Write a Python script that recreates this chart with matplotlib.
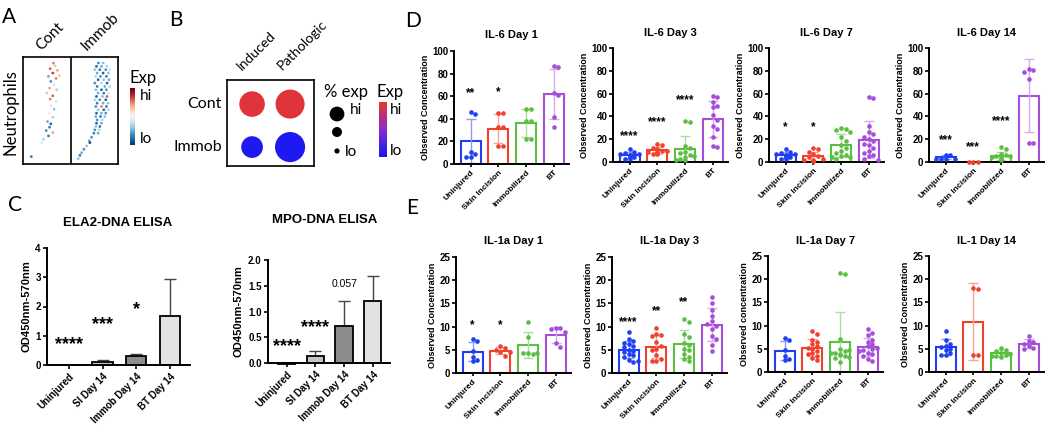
import numpy as np
import matplotlib
matplotlib.use('Agg')
import matplotlib.pyplot as plt
from matplotlib.colors import LinearSegmentedColormap

plt.rcParams['font.family'] = ['Liberation Sans', 'DejaVu Sans']

W, H = 1050, 432

# ---------------- panel A: neutrophil cells (arbitrary UMAP units)
cont_x = [160, 165, 150, 172, 158, 145, 168, 178, 152, 162, 148, 170, 140, 158, 150, 168, 152,
          162, 148, 158, 142, 152, 148, 138, 158, 145, 130, 125, 93]
cont_y = [190, 198, 207, 212, 220, 230, 236, 228, 245, 255, 265, 270, 280, 288, 298, 305, 318,
          328, 340, 352, 365, 372, 382, 392, 398, 408, 418, 428, 470]
cont_e = [0.5, 0.3, 0.6, 0.4, 0.7, -0.5, 0.5, 0.3, -0.6, 0.2, 0.4, -0.3, 0.3, 0.6, 0.5, -0.2, -0.2,
          -0.4, 0.1, -0.3, -0.5, -0.8, -0.7, -0.6, 0.4, -0.7, -0.3, -0.2, -0.7]

immob_x = [296, 310, 290, 305, 322, 285, 300, 318, 330, 292, 310, 326, 288, 302, 320, 295, 312, 328,
           285, 305, 322, 292, 315, 330, 288, 305, 320, 295, 312, 326, 290, 308, 322, 285, 300, 318,
           292, 310, 325, 288, 305, 320, 295, 312, 326, 290, 305, 318, 288, 302, 315, 292, 308, 290,
           305, 288, 300, 285, 298, 282, 295, 275, 268, 270, 260, 252, 245, 240, 235]
immob_y = [190, 190, 200, 200, 200, 210, 210, 210, 210, 220, 220, 220, 230, 230, 230, 240, 240, 240,
           250, 250, 250, 260, 260, 260, 270, 270, 270, 280, 280, 280, 290, 290, 290, 300, 300, 300,
           310, 310, 310, 320, 320, 320, 330, 330, 330, 340, 340, 340, 350, 350, 350, 360, 360, 370,
           370, 380, 380, 390, 390, 400, 400, 412, 422, 428, 438, 448, 458, 466, 476]
immob_e = [-0.6, -0.4, -0.8, -0.5, -0.3, -0.4, -0.7, -0.6, -0.2, -0.5, -0.8, -0.4, -0.3, -0.6, -0.7,
           -0.8, -0.4, -0.5, -0.6, -0.3, -0.8, -0.7, -0.5, -0.3, -0.4, -0.8, -0.6, -0.5, -0.7, -0.2,
           -0.8, -0.4, 0.6, -0.3, -0.6, -0.8, -0.7, -0.5, -0.4, -0.6, 0.5, -0.7, -0.4, -0.8, -0.3,
           -0.8, -0.5, -0.6, -0.5, -0.7, -0.4, -0.6, -0.3, -0.8, -0.5, -0.4, -0.7, -0.6, -0.3, -0.7,
           -0.5, -0.6, -0.5, -0.9, -0.4, -0.6, -0.5, -0.7, -0.4]

# ---------------- panel B: dot plot
dot_rows = ['Cont', 'Immob']
dot_cols = ['Induced', 'Pathologic']
dot_pct = [[0.72, 0.93], [0.52, 1.0]]
dot_exp = [[0.95, 0.95], [0.03, 0.03]]
legend_pct = [0.24, 0.11, 0.03]

# ---------------- panel C: ELISA
elisa_groups = ['Uninjured', 'SI Day 14', 'Immob Day 14', 'BT Day 14']
elisa_fill = ['#ffffff', '#c4c4c4', '#8c8c8c', '#e2e2e2']
ela2_mean = [0.01, 0.10, 0.30, 1.68]
ela2_sd = [0.0, 0.07, 0.08, 1.27]
ela2_marks = ['****', '***', '*', '']
ela2_mark_y = [0.70, 1.39, 1.90, 0]
mpo_mean = [-0.01, 0.13, 0.71, 1.21]
mpo_sd = [0.0, 0.11, 0.50, 0.48]
mpo_marks = ['****', '****', '0.057', '']
mpo_mark_y = [0.31, 0.68, 1.53, 0]

# ---------------- panels D/E: cytokines
groups = ['Uninjured', 'Skin Incision', 'Immobilized', 'BT']
group_colors = ['#1f3ff2', '#f0412c', '#5cbf44', '#a64dda']
err_colors = ['#8a9cf6', '#f5a597', '#acdd9e', '#d5abef']

il6_day1 = [[46, 44, 6, 9, 11, 6], [45, 45, 33, 33, 16, 16], [49, 49, 38, 38, 22, 22],
            [87, 86, 63, 61, 42, 33]]
il6_day3 = [[11, 9, 8, 7, 7, 6, 6, 5, 5, 4, 3, 3], [16, 15, 12, 11, 10, 10, 9, 9, 8, 8, 7, 7],
            [36, 35, 14, 12, 9, 8, 6, 5, 4, 3, 2, 2],
            [58, 57, 53, 49, 48, 41, 37, 32, 29, 22, 14, 13]]
il6_day7 = [[11, 9, 8, 7, 7, 6, 6, 5, 5, 4, 4, 3, 3], [12, 11, 9, 7, 5, 4, 3, 2, 2, 1, 1, 1],
            [30, 29, 28, 26, 22, 18, 15, 12, 10, 8, 6, 5, 4, 4, 3],
            [57, 56, 32, 26, 25, 22, 20, 18, 16, 15, 12, 10, 8, 6, 5, 3, 2]]
il6_day14 = [[6.5, 6, 3, 3, 2.5, 3], [0.3, 0.3, 0.3], [13, 11, 7, 6, 5, 5, 4, 4, 3, 3, 3, 2],
             [82, 81, 79, 73, 17, 17]]
il1_day1 = [[7.4, 6.8, 4.8, 3.5, 2.5, 2.8], [5.8, 5.3, 5.0, 4.6, 3.7, 4.6],
            [11.0, 4.3, 4.2, 4.3, 4.4, 7.8], [9.6, 9.6, 9.5, 8.8, 6.5, 5.7]]
il1_day3 = [[8.9, 7.3, 7.0, 6.5, 6.2, 5.9, 5.5, 5.0, 4.8, 4.5, 4.0, 3.8, 3.4, 2.9, 2.3, 2.6],
            [9.8, 8.3, 8.2, 7.9, 6.7, 5.8, 5.1, 3.8, 3.0, 2.5, 2.5, 4.9],
            [11.6, 11.0, 8.3, 7.8, 6.5, 6.1, 5.1, 4.9, 4.0, 3.5, 3.0, 2.5],
            [16.4, 15.1, 13.5, 12.2, 11.1, 10.2, 9.4, 8.0, 6.0, 4.7, 7.4, 10.5]]
il1_day7 = [[7.4, 6.8, 4.8, 3.5, 2.5, 2.8],
            [8.9, 8.2, 7.0, 6.5, 6.0, 5.5, 5.0, 4.5, 4.0, 3.5, 3.0, 2.5, 3.8, 5.2],
            [21.3, 21.2, 7.1, 5.0, 4.5, 4.2, 3.9, 3.5, 3.3, 3.0, 4.8, 2.2, 4.0, 3.6],
            [9.3, 8.4, 7.9, 7.0, 6.5, 6.0, 5.5, 5.0, 4.7, 4.2, 3.8, 3.5, 2.9, 2.4, 5.2, 4.5]]
il1_day14 = [[8.9, 6.9, 6.0, 5.7, 5.3, 5.0, 4.7, 4.0, 3.6, 3.6], [18.2, 17.8, 3.6, 3.6],
             [5.2, 4.8, 4.5, 4.2, 3.9, 3.6, 3.4, 3.2, 3.5], [7.8, 6.7, 6.5, 6.1, 5.7, 5.1, 4.9]]

il6_stars = [['**', '*', '', ''], ['****', '****', '****', ''], ['*', '*', '', ''],
             ['***', '***', '****', '']]
il6_star_y = [[63, 64, 0, 0], [22.5, 35, 54, 0], [31, 31, 0, 0], [19, 13, 35.5, 0]]
il1_stars = [['*', '*', '', ''], ['****', '**', '**', ''], ['', '', '', ''], ['', '', '', '']]
il1_star_y = [[10.4, 10.4, 0, 0], [10.9, 13.3, 15.2, 0], [0, 0, 0, 0], [0, 0, 0, 0]]


def px_box(l, t, r, b):
    return [l / W, 1 - b / H, (r - l) / W, (b - t) / H]


def swarm(vals, center, px_x, px_y, d=4.6, lim=11):
    placed = []
    xs = []
    for v in vals:
        yp = v * px_y
        off = 0
        for k in range(15):
            o = ((k + 1) // 2) * d * (1 if k % 2 else -1)
            if abs(o) > lim:
                continue
            if all((o - a) ** 2 + (yp - b) ** 2 >= d * d for a, b in placed):
                off = o
                break
        placed.append((off, yp))
        xs.append(center + off / px_x)
    return xs


def prism_axes(ax):
    for s in ['top', 'right']:
        ax.spines[s].set_visible(False)
    for s in ['left', 'bottom']:
        ax.spines[s].set_linewidth(1.4)


fig = plt.figure(figsize=(W / 100, H / 100), dpi=100)
ov = fig.add_axes([0, 0, 1, 1])
ov.set_xlim(0, W)
ov.set_ylim(H, 0)
ov.axis('off')

lato = ['Lato', 'DejaVu Sans']
for letter, lx, ly in [('A', 9, 17), ('B', 176, 20), ('C', 15, 205), ('D', 413, 21), ('E', 412, 208)]:
    ov.text(lx, ly, letter, fontsize=15, ha='center', va='center', family=lato)

# ---- A
axA = fig.add_axes(px_box(23, 57, 118, 164))
axA.scatter(cont_x, cont_y, c=cont_e, cmap='RdBu_r', vmin=-1, vmax=1, s=4, linewidths=0)
axA.scatter(immob_x, immob_y, c=immob_e, cmap='RdBu_r', vmin=-1, vmax=1, s=4, linewidths=0)
axA.set_xlim(68, 355)
axA.set_ylim(492, 172)
axA.axvline(213, color='black', lw=1.2)
axA.set_xticks([])
axA.set_yticks([])
for s in axA.spines.values():
    s.set_linewidth(1.2)
ov.text(41, 51, 'Cont', rotation=45, rotation_mode='anchor', fontsize=11, family=lato)
ov.text(87, 51, 'Immob', rotation=45, rotation_mode='anchor', fontsize=11, family=lato)
ov.text(10, 112, 'Neutrophils', rotation=90, ha='center', va='center', fontsize=12, family=lato)

grad = np.linspace(1, -1, 100).reshape(-1, 1)
cbA = fig.add_axes(px_box(130, 88, 135, 145))
cbA.imshow(grad, cmap='RdBu_r', vmin=-1, vmax=1, aspect='auto')
cbA.axis('off')
ov.text(143, 78, 'Exp', ha='center', va='center', fontsize=12, family=lato)
ov.text(140, 96, 'hi', ha='left', va='center', fontsize=11, family=lato)
ov.text(140, 139, 'lo', ha='left', va='center', fontsize=11, family=lato)

# ---- B
bcmap = LinearSegmentedColormap.from_list('bexp', ['#1818f2', '#8a2bd0', '#e8362a'])
axB = fig.add_axes(px_box(227, 80, 314, 166))
for r, row in enumerate(dot_rows):
    yv = len(dot_rows) - 1 - r
    axB.scatter(range(len(dot_cols)), [yv] * len(dot_cols), s=[p * 470 for p in dot_pct[r]],
                c=dot_exp[r], cmap=bcmap, vmin=0, vmax=1, linewidths=0)
axB.set_xlim(-0.66, 1.63)
axB.set_ylim(-0.44, 1.56)
axB.set_xticks([])
axB.set_yticks([])
for s in axB.spines.values():
    s.set_linewidth(1.2)
ov.text(242, 71, 'Induced', rotation=45, rotation_mode='anchor', fontsize=10, family=lato)
ov.text(282, 71, 'Pathologic', rotation=45, rotation_mode='anchor', fontsize=10, family=lato)
ov.text(222, 104, 'Cont', ha='right', va='center', fontsize=11.5, family=lato)
ov.text(222, 147, 'Immob', ha='right', va='center', fontsize=11.5, family=lato)
ov.text(346, 92, '% exp', ha='center', va='center', fontsize=12, family=lato)
ov.scatter([337, 337, 337], [114, 132, 151], s=[p * 470 for p in legend_pct], color='black',
           linewidths=0)
ov.text(350, 110, 'hi', ha='left', va='center', fontsize=11, family=lato)
ov.text(345, 152, 'lo', ha='left', va='center', fontsize=11, family=lato)
cbB = fig.add_axes(px_box(379, 102, 387, 157))
cbB.imshow(np.linspace(1, 0, 100).reshape(-1, 1), cmap=bcmap, aspect='auto')
cbB.axis('off')
ov.text(390, 92, 'Exp', ha='center', va='center', fontsize=12, family=lato)
ov.text(390, 110, 'hi', ha='left', va='center', fontsize=11, family=lato)
ov.text(390, 151, 'lo', ha='left', va='center', fontsize=11, family=lato)


# ---- C
def elisa_panel(box, title, title_xy, means, sds, ymax, ystep, fmt, marks, mark_y):
    ax = fig.add_axes(px_box(*box))
    x = np.arange(len(elisa_groups))
    ax.bar(x, means, width=0.6, color=elisa_fill, edgecolor='black', linewidth=1.3,
           clip_on=False, zorder=2)
    ax.errorbar(x, means, yerr=[np.zeros(len(sds)), sds], fmt='none', ecolor='#444',
                elinewidth=1, capsize=4, capthick=1, zorder=1)
    for i, m in enumerate(marks):
        if m:
            star = m[0] == '*'
            ax.text(i, mark_y[i], m, ha='center', va='center', fontsize=13 if star else 7.5,
                    fontweight='bold' if star else 'normal')
    ax.set_xlim(-0.65, 3.6)
    ax.set_ylim(0, ymax)
    ax.set_yticks(np.arange(0, ymax + ystep / 2, ystep))
    ax.set_yticklabels([fmt % v for v in np.arange(0, ymax + ystep / 2, ystep)])
    ax.set_xticks(x)
    ax.set_xticklabels(elisa_groups, rotation=45, ha='right', rotation_mode='anchor')
    ax.tick_params(labelsize=7, width=1.2, length=3, pad=1.5)
    for lab in ax.get_xticklabels() + ax.get_yticklabels():
        lab.set_fontweight('bold')
    ax.set_ylabel('OD450nm-570nm', fontsize=8, fontweight='bold', labelpad=3)
    prism_axes(ax)
    ov.text(title_xy[0], title_xy[1], title, ha='center', va='center', fontsize=9.5,
            fontweight='bold')


elisa_panel((47, 248, 190, 365), 'ELA2-DNA ELISA', (118, 223), ela2_mean, ela2_sd, 4, 1, '%d',
            ela2_marks, ela2_mark_y)
elisa_panel((268, 260, 390, 363), 'MPO-DNA ELISA', (325, 220), mpo_mean, mpo_sd, 2, 0.5, '%.1f',
            mpo_marks, mpo_mark_y)


# ---- D / E
def cyto_panel(box, title, data, ymax, ystep, ylabel, stars, star_y):
    ax = fig.add_axes(px_box(*box))
    xlo, xhi = -0.6, 3.55
    px_x = (box[2] - box[0]) / (xhi - xlo)
    px_y = (box[3] - box[1]) / ymax
    for i, vals in enumerate(data):
        m = np.mean(vals)
        sd = np.std(vals, ddof=1)
        ax.bar(i, m, width=0.72, facecolor='white', edgecolor=group_colors[i], linewidth=1.5,
               zorder=1)
        ax.errorbar(i, m, yerr=sd, color=err_colors[i], capsize=3.5, elinewidth=1, capthick=1,
                    zorder=2)
        xs = swarm(vals, i, px_x, px_y)
        ax.scatter(xs, vals, s=11, color=group_colors[i], linewidths=0, zorder=3, clip_on=False)
        if stars[i]:
            ax.text(i, star_y[i], stars[i], ha='center', va='center', fontsize=8.5,
                    fontweight='bold')
    ax.set_xlim(xlo, xhi)
    ax.set_ylim(0, ymax)
    ax.set_yticks(np.arange(0, ymax + 1, ystep))
    ax.set_xticks(range(len(groups)))
    ax.set_xticklabels(groups, rotation=45, ha='right', rotation_mode='anchor')
    ax.tick_params(axis='y', labelsize=7, width=1.2, length=3, pad=1)
    ax.tick_params(axis='x', labelsize=6, width=1.2, length=2, pad=1.5)
    for lab in ax.get_xticklabels() + ax.get_yticklabels():
        lab.set_fontweight('bold')
    ax.set_ylabel(ylabel, fontsize=6.5, fontweight='bold', labelpad=2)
    ax.set_title(title, fontsize=8, fontweight='bold', pad=9)
    prism_axes(ax)


il6_boxes = [(454, 51, 569, 164), (613, 48, 728, 162), (769, 48, 884, 162), (929, 48, 1044, 162)]
il1_boxes = [(456, 257, 571, 373), (612, 257, 727, 373), (768, 256, 883, 372), (929, 256, 1044, 372)]
il6_titles = ['IL-6 Day 1', 'IL-6 Day 3', 'IL-6 Day 7', 'IL-6 Day 14']
il1_titles = ['IL-1a Day 1', 'IL-1a Day 3', 'IL-1a Day 7', 'IL-1 Day 14']
il1_ylabels = ['Observed Concentration', 'Observed Concentration', 'Observed concentration',
               'Observed Concentration']

for k, d in enumerate([il6_day1, il6_day3, il6_day7, il6_day14]):
    cyto_panel(il6_boxes[k], il6_titles[k], d, 100, 20, 'Observed Concentration',
               il6_stars[k], il6_star_y[k])
for k, d in enumerate([il1_day1, il1_day3, il1_day7, il1_day14]):
    cyto_panel(il1_boxes[k], il1_titles[k], d, 25, 5, il1_ylabels[k], il1_stars[k], il1_star_y[k])

fig.savefig('out.png', dpi=100)
